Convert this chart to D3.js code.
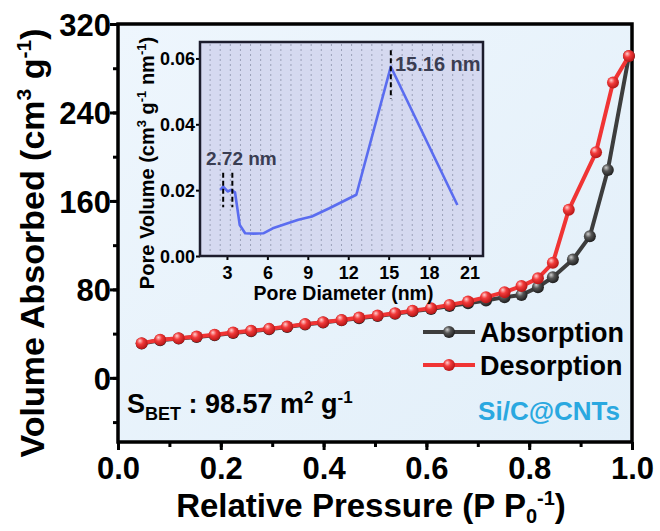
<!DOCTYPE html>
<html>
<head>
<meta charset="utf-8">
<script src="https://cdn.jsdelivr.net/npm/d3@7"></script>
<style>
  body { margin: 0; background: #fff; }
  svg text { font-family: Arial, "Liberation Sans", sans-serif; font-weight: bold; }
</style>
</head>
<body>
<div id="chart"></div>
<script>
// isotherm data
const pressureAds = [0.046, 0.082, 0.118, 0.153, 0.188, 0.224, 0.259, 0.294, 0.329, 0.364, 0.399, 0.435, 0.469,
  0.505, 0.539, 0.573, 0.609, 0.645, 0.681, 0.716, 0.752, 0.785, 0.817, 0.846, 0.885, 0.918, 0.953, 0.994];
const volumeAds = [31, 34, 35.5, 37, 38.5, 40.6, 42.2, 44, 46, 48.2, 50, 52, 54, 56, 58, 60.3, 62.3, 65,
  67.5, 70, 73, 75, 82, 91, 107, 128, 188, 291];
const pressureDes = [0.046, 0.082, 0.118, 0.153, 0.188, 0.224, 0.259, 0.294, 0.329, 0.364, 0.399, 0.435, 0.469,
  0.505, 0.539, 0.573, 0.609, 0.645, 0.681, 0.716, 0.752, 0.785, 0.817, 0.846, 0.877, 0.930, 0.963, 0.994];
const volumeDes = [31.4, 34.4, 35.9, 37.3, 38.9, 41, 42.5, 44.3, 46.4, 48.6, 50.4, 52.4, 54.5, 56.3, 58.5,
  60.8, 63, 66, 69, 73, 77.5, 83, 90, 104, 152, 204, 267, 291];

// pore size distribution (inset)
const poreDiameter = [2.5, 2.72, 3.05, 3.3, 3.6, 3.95, 4.35, 5.0, 5.7, 6.4, 7.4, 8.3, 9.3, 10.6, 12.6, 15.16, 20.1];
const poreVolume = [0.0201, 0.0211, 0.0196, 0.0201, 0.0193, 0.0094, 0.0069, 0.0068, 0.0069, 0.0084, 0.0098,
  0.011, 0.012, 0.0145, 0.0186, 0.0575, 0.0155];
const peakMarks = [2.72, 3.4];
const mainPeak = 15.16;

const xTicks = [0, 0.2, 0.4, 0.6, 0.8, 1.0];
const yTicks = [0, 80, 160, 240, 320];
const insetXTicks = [3, 6, 9, 12, 15, 18, 21];
const insetYTicks = [0, 0.02, 0.04, 0.06];

const W = 660, H = 531;
const svg = d3.select('#chart').append('svg').attr('width', W).attr('height', H);
const defs = svg.append('defs');

const plot = { left: 118, right: 632, top: 24, bottom: 442 };
const x = d3.scaleLinear().domain([0, 1]).range([plot.left, plot.right]);
const y = d3.scaleLinear().domain([-58, 320]).range([plot.bottom, plot.top]);

// backgrounds
const bg = defs.append('linearGradient').attr('id', 'bg').attr('x1', 0).attr('y1', 0).attr('x2', 1).attr('y2', 1);
bg.append('stop').attr('offset', 0).attr('stop-color', '#eef6fd');
bg.append('stop').attr('offset', 1).attr('stop-color', '#e2eff9');

function sphere(id, light, base, dark) {
  const g = defs.append('radialGradient').attr('id', id).attr('cx', '40%').attr('cy', '38%').attr('r', '60%')
    .attr('fx', '35%').attr('fy', '30%');
  g.append('stop').attr('offset', 0).attr('stop-color', light);
  g.append('stop').attr('offset', 0.45).attr('stop-color', base);
  g.append('stop').attr('offset', 1).attr('stop-color', dark);
}
sphere('ballRed', '#ffd0d0', '#f23a3a', '#b81818');
sphere('ballGrey', '#cfcfcf', '#555', '#222');

svg.append('rect').attr('x', plot.left).attr('y', plot.top)
  .attr('width', plot.right - plot.left).attr('height', plot.bottom - plot.top)
  .attr('fill', 'url(#bg)');

// axes
svg.append('g').attr('transform', `translate(0,${plot.bottom})`)
  .call(d3.axisBottom(x).tickValues(d3.range(0, 1.01, 0.1)).tickFormat('').tickSize(5).tickSizeOuter(0))
  .call(g => g.selectAll('line').attr('stroke-width', 3))
  .call(g => g.select('.domain').remove());
svg.append('g').attr('transform', `translate(0,${plot.bottom})`)
  .call(d3.axisBottom(x).tickValues(xTicks).tickFormat(d3.format('.1f')).tickSize(8).tickSizeOuter(0))
  .call(g => g.select('.domain').remove())
  .call(g => g.selectAll('line').attr('stroke-width', 3))
  .call(g => g.selectAll('text').attr('font-size', 31).attr('y', 8).attr('dy', '0.95em').attr('fill', '#000'));

svg.append('g').attr('transform', `translate(${plot.left},0)`)
  .call(d3.axisLeft(y).tickValues(d3.range(-40, 321, 40)).tickFormat('').tickSize(5).tickSizeOuter(0))
  .call(g => g.selectAll('line').attr('stroke-width', 3))
  .call(g => g.select('.domain').remove());
svg.append('g').attr('transform', `translate(${plot.left},0)`)
  .call(d3.axisLeft(y).tickValues(yTicks).tickSize(8).tickSizeOuter(0))
  .call(g => g.select('.domain').remove())
  .call(g => g.selectAll('line').attr('stroke-width', 3))
  .call(g => g.selectAll('text').attr('font-size', 31).attr('dy', '0.36em').attr('x', -7).attr('fill', '#000'));

svg.append('rect').attr('x', plot.left).attr('y', plot.top)
  .attr('width', plot.right - plot.left).attr('height', plot.bottom - plot.top)
  .attr('fill', 'none').attr('stroke', '#000').attr('stroke-width', 3.5);

// axis titles
const xt = svg.append('text').attr('x', (plot.left + plot.right) / 2 - 4).attr('y', 517)
  .attr('text-anchor', 'middle').attr('font-size', 33);
xt.append('tspan').text('Relative Pressure (P P');
xt.append('tspan').attr('font-size', 20).attr('dy', 6).text('0');
xt.append('tspan').attr('font-size', 20).attr('dy', -18).text('-1');
xt.append('tspan').attr('dy', 12).text(')');

const yt = svg.append('text').attr('transform', `translate(44,${(plot.top + plot.bottom) / 2 + 10}) rotate(-90)`)
  .attr('text-anchor', 'middle').attr('font-size', 34);
yt.append('tspan').text('Volume Absorbed (cm');
yt.append('tspan').attr('font-size', 21).attr('dy', -13).text('3');
yt.append('tspan').attr('dy', 13).text(' g');
yt.append('tspan').attr('font-size', 21).attr('dy', -13).text('-1');
yt.append('tspan').attr('dy', 13).text(')');

// isotherm curves
const line = d3.line().x(d => x(d[0])).y(d => y(d[1]));
const ads = pressureAds.map((p, i) => [p, volumeAds[i]]);
const des = pressureDes.map((p, i) => [p, volumeDes[i]]);

function series(data, color, ball) {
  svg.append('path').datum(data).attr('d', line).attr('fill', 'none')
    .attr('stroke', color).attr('stroke-width', 4).attr('stroke-linejoin', 'round');
  svg.append('g').selectAll('circle').data(data).join('circle')
    .attr('cx', d => x(d[0])).attr('cy', d => y(d[1])).attr('r', 6)
    .attr('fill', `url(#${ball})`);
}
series(ads, '#3d3d3d', 'ballGrey');
series(des, '#f03434', 'ballRed');

// legend
const legend = [['Absorption', '#3d3d3d', 'ballGrey', 332], ['Desorption', '#f03434', 'ballRed', 365]];
legend.forEach(([name, color, ball, ly]) => {
  svg.append('line').attr('x1', 423).attr('x2', 475).attr('y1', ly).attr('y2', ly)
    .attr('stroke', color).attr('stroke-width', 4);
  svg.append('circle').attr('cx', 449).attr('cy', ly).attr('r', 6).attr('fill', `url(#${ball})`);
  svg.append('text').attr('x', 480).attr('y', ly + 10).attr('font-size', 27).text(name);
});

svg.append('text').attr('x', 620).attr('y', 420).attr('text-anchor', 'end')
  .attr('font-size', 26).attr('fill', '#2aa8e0').text('Si/C@CNTs');

const sb = svg.append('text').attr('x', 127).attr('y', 413).attr('font-size', 27);
sb.append('tspan').text('S');
sb.append('tspan').attr('font-size', 18).attr('dy', 7).text('BET');
sb.append('tspan').attr('dy', -7).text(' : 98.57 m');
sb.append('tspan').attr('font-size', 17).attr('dy', -10).text('2');
sb.append('tspan').attr('dy', 10).text(' g');
sb.append('tspan').attr('font-size', 17).attr('dy', -10).text('-1');

// inset
const inset = { left: 200, right: 483, top: 42, bottom: 256 };
const ix = d3.scaleLinear().domain([1, 22]).range([inset.left, inset.right]);
const iy = d3.scaleLinear().domain([0, 0.065]).range([inset.bottom, inset.top]);

svg.append('rect').attr('x', inset.left).attr('y', inset.top)
  .attr('width', inset.right - inset.left).attr('height', inset.bottom - inset.top)
  .attr('fill', '#d5d9f0');

svg.append('g').selectAll('line').data(d3.range(1.75, 22, 0.75)).join('line')
  .attr('x1', d => ix(d)).attr('x2', d => ix(d)).attr('y1', inset.top + 2).attr('y2', inset.bottom - 2)
  .attr('stroke', '#9aa0b8').attr('stroke-width', 1).attr('stroke-dasharray', '2,3');

svg.append('g').attr('transform', `translate(0,${inset.bottom})`)
  .call(d3.axisBottom(ix).tickValues(insetXTicks).tickSize(4).tickSizeOuter(0))
  .call(g => g.select('.domain').remove())
  .call(g => g.selectAll('line').attr('stroke-width', 2))
  .call(g => g.selectAll('text').attr('font-size', 18).attr('y', 6).attr('dy', '0.95em').attr('fill', '#000'));
svg.append('g').attr('transform', `translate(${inset.left},0)`)
  .call(d3.axisLeft(iy).tickValues(insetYTicks).tickFormat(d3.format('.2f')).tickSize(4).tickSizeOuter(0))
  .call(g => g.select('.domain').remove())
  .call(g => g.selectAll('line').attr('stroke-width', 2))
  .call(g => g.selectAll('text').attr('font-size', 18).attr('dy', '0.36em').attr('x', -5).attr('fill', '#000'));

svg.append('rect').attr('x', inset.left).attr('y', inset.top)
  .attr('width', inset.right - inset.left).attr('height', inset.bottom - inset.top)
  .attr('fill', 'none').attr('stroke', '#1c1c2c').attr('stroke-width', 2.5);

svg.append('text').attr('x', (inset.left + inset.right) / 2 + 2).attr('y', 300)
  .attr('text-anchor', 'middle').attr('font-size', 19.5).text('Pore Diameter (nm)');

const iyt = svg.append('text').attr('transform', `translate(154,${(inset.top + inset.bottom) / 2 + 14}) rotate(-90)`)
  .attr('text-anchor', 'middle').attr('font-size', 20);
iyt.append('tspan').text('Pore Volume (cm');
iyt.append('tspan').attr('font-size', 13).attr('dy', -8).text('3');
iyt.append('tspan').attr('dy', 8).text(' g');
iyt.append('tspan').attr('font-size', 13).attr('dy', -8).text('-1');
iyt.append('tspan').attr('dy', 8).text(' nm');
iyt.append('tspan').attr('font-size', 13).attr('dy', -8).text('-1');
iyt.append('tspan').attr('dy', 8).text(')');

const psd = poreDiameter.map((d, i) => [d, poreVolume[i]]);
svg.append('path').datum(psd)
  .attr('d', d3.line().x(d => ix(d[0])).y(d => iy(d[1])))
  .attr('fill', 'none').attr('stroke', '#5a6cf0').attr('stroke-width', 2.6).attr('stroke-linejoin', 'round');

// dashed peak markers
svg.append('g').selectAll('line').data(peakMarks).join('line')
  .attr('x1', d => ix(d)).attr('x2', d => ix(d)).attr('y1', iy(0.0253)).attr('y2', iy(0.0148))
  .attr('stroke', '#000').attr('stroke-width', 2).attr('stroke-dasharray', '5,3');
svg.append('line').attr('x1', ix(mainPeak)).attr('x2', ix(mainPeak))
  .attr('y1', iy(0.0625)).attr('y2', iy(0.0478))
  .attr('stroke', '#000').attr('stroke-width', 2).attr('stroke-dasharray', '5,3');

svg.append('text').attr('x', 206).attr('y', 165).attr('font-size', 19).attr('fill', '#3a3d52').text('2.72 nm');
svg.append('text').attr('x', 395).attr('y', 71).attr('font-size', 20).attr('fill', '#3a3d52').text('15.16 nm');
</script>
</body>
</html>
